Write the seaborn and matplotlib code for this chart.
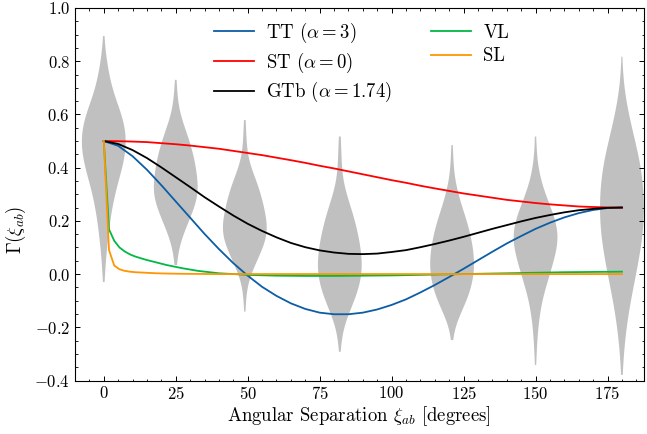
import numpy as np
import pandas as pd
import matplotlib
matplotlib.use("Agg")
import matplotlib.pyplot as plt
from matplotlib.ticker import MultipleLocator
import seaborn as sns

# ---------------- data ----------------
ANGLES = [0, 5, 10, 15, 20, 25, 30, 35, 40, 45, 50, 55, 60, 65, 70, 75, 80, 85, 90,
          95, 100, 105, 110, 115, 120, 125, 130, 135, 140, 145, 150, 155, 160, 165,
          170, 175, 180]
TT = [0.500, 0.482, 0.443, 0.392, 0.334, 0.273, 0.212, 0.151, 0.094, 0.041, -0.006,
      -0.048, -0.082, -0.110, -0.131, -0.145, -0.151, -0.151, -0.145, -0.133, -0.116,
      -0.095, -0.069, -0.041, -0.011, 0.020, 0.052, 0.084, 0.115, 0.143, 0.170, 0.193,
      0.213, 0.229, 0.241, 0.248, 0.250]
ST = [0.500, 0.4995, 0.498, 0.496, 0.492, 0.488, 0.483, 0.477, 0.471, 0.463, 0.455,
      0.447, 0.4375, 0.428, 0.418, 0.407, 0.397, 0.386, 0.375, 0.364, 0.353, 0.343,
      0.332, 0.322, 0.3125, 0.303, 0.295, 0.287, 0.279, 0.273, 0.267, 0.262, 0.258,
      0.254, 0.252, 0.2505, 0.250]
GTB = [0.500, 0.489, 0.466, 0.436, 0.401, 0.364, 0.327, 0.289, 0.254, 0.220, 0.189,
       0.162, 0.138, 0.117, 0.101, 0.089, 0.081, 0.076, 0.075, 0.077, 0.083, 0.090,
       0.101, 0.113, 0.126, 0.140, 0.155, 0.170, 0.184, 0.198, 0.211, 0.222, 0.232,
       0.240, 0.245, 0.249, 0.250]

LONG_ANGLES = [0, 1.82, 3.64, 5.45, 7.27, 9.09, 10.91, 14.55, 18.18, 21.82, 27.27,
               32.73, 40, 50, 60, 70, 80, 90, 100, 110, 120, 130, 140, 150, 160, 170, 180]
VL = [0.500, 0.168, 0.125, 0.100, 0.085, 0.074, 0.066, 0.054, 0.044, 0.034, 0.022,
      0.012, 0.003, -0.003, -0.006, -0.007, -0.007, -0.006, -0.005, -0.003, -0.001,
      0.001, 0.003, 0.005, 0.007, 0.008, 0.009]
SL = [0.500, 0.090, 0.032, 0.018, 0.012, 0.009, 0.007, 0.005, 0.003, 0.002, 0.001,
      0.0005, 0.0, 0.0, 0.0, 0.0, 0.0, 0.0, 0.0, 0.0, 0.0, 0.0, 0.0, 0.0, 0.0, 0.0, 0.0]

VIOLIN_POS = [0, 25, 49, 82, 121, 150, 180]
V1_LEVELS = [0.895, 0.85, 0.80, 0.75, 0.70, 0.65, 0.60, 0.55, 0.50, 0.45, 0.40, 0.35,
             0.30, 0.25, 0.20, 0.15, 0.10, 0.05, 0.00, -0.03]
V1_COUNTS = [1, 2, 6, 10, 15, 24, 35, 42, 44, 42, 36, 28, 21, 16, 12, 9, 6, 4, 2, 1]
V2_LEVELS = [0.73, 0.70, 0.65, 0.60, 0.55, 0.50, 0.45, 0.40, 0.35, 0.30, 0.25, 0.20,
             0.15, 0.10, 0.05, 0.034]
V2_COUNTS = [1, 2, 4, 8, 17, 26, 33, 38, 41, 43, 35, 25, 14, 6, 2, 1]
V3_LEVELS = [0.579, 0.55, 0.50, 0.45, 0.40, 0.35, 0.30, 0.25, 0.20, 0.15, 0.10, 0.05,
             0.00, -0.05, -0.10, -0.141]
V3_COUNTS = [1, 2, 3, 5, 11, 22, 30, 36, 41, 43, 34, 23, 11, 4, 2, 1]
V4_LEVELS = [0.517, 0.50, 0.45, 0.40, 0.35, 0.30, 0.25, 0.20, 0.15, 0.10, 0.05, 0.00,
             -0.05, -0.10, -0.15, -0.20, -0.25, -0.292]
V4_COUNTS = [1, 2, 3, 4, 6, 13, 22, 30, 36, 41, 44, 44, 38, 29, 17, 7, 3, 1]
V5_LEVELS = [0.485, 0.45, 0.40, 0.35, 0.30, 0.25, 0.20, 0.15, 0.10, 0.05, 0.00, -0.05,
             -0.10, -0.15, -0.20, -0.248]
V5_COUNTS = [1, 2, 3, 6, 12, 20, 29, 36, 41, 44, 43, 38, 29, 16, 5, 1]
V6_LEVELS = [0.517, 0.50, 0.45, 0.40, 0.35, 0.30, 0.25, 0.20, 0.15, 0.10, 0.05, 0.00,
             -0.05, -0.10, -0.15, -0.20, -0.25, -0.30, -0.342]
V6_COUNTS = [1, 1, 2, 5, 10, 18, 29, 38, 44, 41, 34, 27, 19, 12, 8, 5, 3, 2, 1]
V7_LEVELS = [0.817, 0.75, 0.70, 0.65, 0.60, 0.55, 0.50, 0.45, 0.40, 0.35, 0.30, 0.25,
             0.20, 0.15, 0.10, 0.05, 0.00, -0.05, -0.10, -0.15, -0.20, -0.25, -0.30,
             -0.35, -0.379]
V7_COUNTS = [1, 2, 4, 8, 13, 19, 25, 32, 37, 40, 42, 43, 42, 40, 37, 32, 27, 22, 17,
             12, 9, 6, 3, 2, 1]

X_TICKS = [0, 25, 50, 75, 100, 125, 150, 175]
Y_TICKS = [-0.4, -0.2, 0.0, 0.2, 0.4, 0.6, 0.8, 1.0]

# ---------------- style ----------------
plt.rcParams.update({
    "font.family": "serif",
    "font.serif": ["cmr10"],
    "mathtext.fontset": "cm",
    "axes.formatter.use_mathtext": True,
    "axes.unicode_minus": True,
    "font.size": 12,
})

fig = plt.figure(figsize=(6.47, 4.34), dpi=100)
ax = fig.add_axes([75 / 647, 1 - 380.5 / 434, 568.5 / 647, 372.5 / 434])

# ---------------- violins ----------------
levels = [V1_LEVELS, V2_LEVELS, V3_LEVELS, V4_LEVELS, V5_LEVELS, V6_LEVELS, V7_LEVELS]
counts = [V1_COUNTS, V2_COUNTS, V3_COUNTS, V4_COUNTS, V5_COUNTS, V6_COUNTS, V7_COUNTS]
rows = []
for pos, lv, ct in zip(VIOLIN_POS, levels, counts):
    vals = np.repeat(lv, ct)
    rows.append(pd.DataFrame({"pos": pos, "val": vals}))
vdf = pd.concat(rows, ignore_index=True)

min_gap = np.diff(sorted(VIOLIN_POS)).min()
sns.violinplot(data=vdf, x="pos", y="val", orient="x", native_scale=True,
               density_norm="width", cut=0, inner=None, linewidth=0,
               color="#c0c0c0", saturation=1, width=15.2 / min_gap,
               bw_adjust=1.0, gridsize=200, ax=ax)
for coll in ax.collections:
    coll.set_edgecolor("none")

# ---------------- curves ----------------
lw = 1.3
sns.lineplot(x=ANGLES, y=TT, color="#0C5DA5", lw=lw, label=r"TT $(\alpha=3)$", ax=ax)
sns.lineplot(x=ANGLES, y=ST, color="#FF0000", lw=lw, label=r"ST $(\alpha=0)$", ax=ax)
sns.lineplot(x=ANGLES, y=GTB, color="black", lw=lw, label=r"GTb $(\alpha=1.74)$", ax=ax)
sns.lineplot(x=LONG_ANGLES, y=VL, color="#00B945", lw=lw, label="VL", ax=ax)
sns.lineplot(x=LONG_ANGLES, y=SL, color="#FF9500", lw=lw, label="SL", ax=ax)

# ---------------- axes ----------------
ax.set_xlim(-10, 187.5)
ax.set_ylim(-0.4, 1.0)
ax.set_xticks(X_TICKS)
ax.set_yticks(Y_TICKS)
ax.xaxis.set_minor_locator(MultipleLocator(5))
ax.yaxis.set_minor_locator(MultipleLocator(0.05))
ax.tick_params(which="both", direction="in", top=True, right=True, labelsize=12)
ax.tick_params(which="major", length=3.5, width=0.7)
ax.tick_params(which="minor", length=1.8, width=0.6)
for sp in ax.spines.values():
    sp.set_linewidth(0.8)

ax.set_xlabel(r"Angular Separation $\xi_{ab}$ [degrees]", fontsize=13.5, labelpad=1)
ax.set_ylabel(r"$\Gamma(\xi_{ab})$", fontsize=13.5)
ax.yaxis.set_label_coords(-0.082, 0.405)

ax.legend(ncol=2, frameon=False, loc="upper left", bbox_to_anchor=(0.215, 1.011),
          handlelength=2.13, columnspacing=2.1, labelspacing=0.3, handletextpad=0.64,
          fontsize=13.5)

fig.savefig("out.png", dpi=100)
